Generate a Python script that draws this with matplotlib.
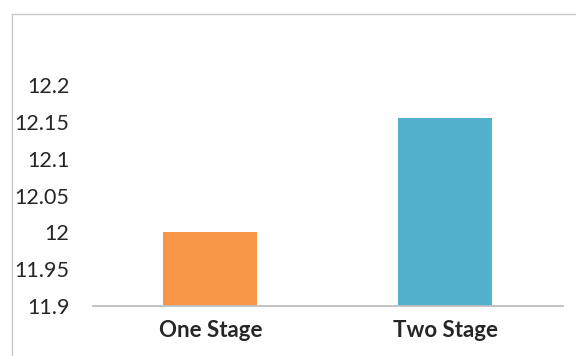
import matplotlib
matplotlib.use("Agg")
import matplotlib.pyplot as plt
from matplotlib.lines import Line2D

categories = ["One Stage", "Two Stage"]
values = [12.0, 12.155]
bar_colors = ["#F79646", "#52B1CC"]
y_ticks = [11.9, 11.95, 12.0, 12.05, 12.1, 12.15, 12.2]
y_tick_labels = ["11.9", "11.95", "12", "12.05", "12.1", "12.15", "12.2"]

plt.rcParams["font.family"] = ["Lato", "DejaVu Sans"]

fig = plt.figure(figsize=(5.76, 3.56), dpi=100)
ax = fig.add_axes([0.1615, 0.1404, 0.8155, 0.6208])

ax.bar(range(len(categories)), values, width=0.4, color=bar_colors)
ax.set_xlim(-0.5, 1.5)
ax.set_ylim(11.9, 12.2)
ax.set_yticks(y_ticks)
ax.set_yticklabels(y_tick_labels, fontsize=15.5, color="#262626")
ax.set_xticks(range(len(categories)))
ax.set_xticklabels(categories, fontsize=16, fontweight="bold", color="#262626")
ax.tick_params(axis="both", length=0)
ax.tick_params(axis="y", pad=17)
ax.tick_params(axis="x", pad=10)

for side in ["top", "right", "left"]:
    ax.spines[side].set_visible(False)
ax.spines["bottom"].set_color("#BFBFBF")
ax.spines["bottom"].set_linewidth(1.3)

# chart frame (only left and top edges are visible in the crop)
x0, y0 = 11.5 / 576, 1 - 13.5 / 356
fig.add_artist(Line2D([x0, x0], [0, y0], transform=fig.transFigure, color="#C8C8C8", lw=1.0))
fig.add_artist(Line2D([x0, 1], [y0, y0], transform=fig.transFigure, color="#C8C8C8", lw=1.0))

fig.savefig("out.png", dpi=100)
